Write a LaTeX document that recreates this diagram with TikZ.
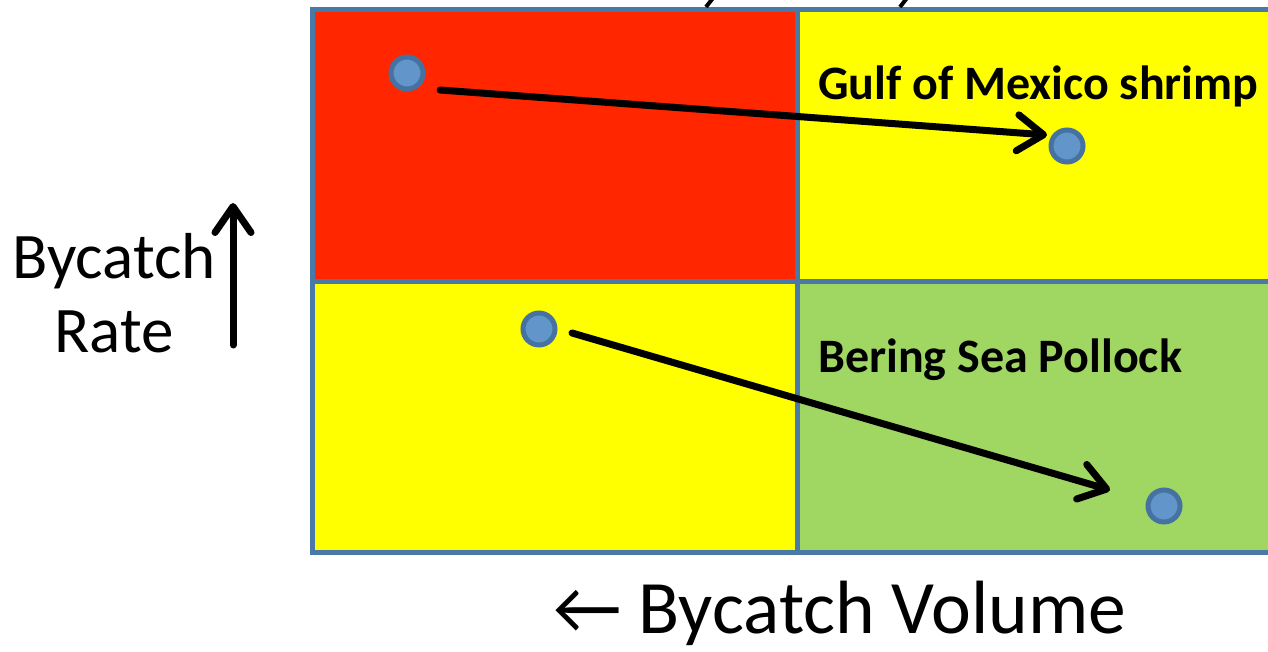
\documentclass[tikz,border=0pt]{standalone}
\usepackage{fontspec}
\setmainfont{Carlito}
\usetikzlibrary{arrows.meta}
\definecolor{gridblue}{RGB}{74,121,168}
\definecolor{cellred}{RGB}{255,38,0}
\definecolor{cellyellow}{RGB}{255,255,0}
\definecolor{cellgreen}{RGB}{160,214,98}
\definecolor{dotfill}{RGB}{98,150,203}
\definecolor{dotring}{RGB}{69,114,161}
\tikzset{
  dot/.style={circle, fill=dotfill, draw=dotring, line width=5pt, minimum size=32pt, inner sep=0pt},
  bigarrow/.style={line width=7pt, line cap=round, -{Straight Barb[length=26pt,width=36pt,round]}},
  gridline/.style={draw=gridblue, line width=5pt},
  fishlabel/.style={font=\fontsize{48}{56}\selectfont\bfseries, inner sep=0pt, anchor=base west},
  axislabel/.style={inner sep=0pt, anchor=base, font=\fontsize{65}{75}\selectfont},
}
\begin{document}
\begin{tikzpicture}[x=1pt,y=-1pt]
\useasboundingbox (0,0) rectangle (1268,652);
\clip (0,0) rectangle (1268,652);
% cells
\fill[cellred] (312,9.5) rectangle (797.5,281.5);
\fill[cellyellow] (797.5,9.5) rectangle (1290,281.5);
\fill[cellyellow] (312,281.5) rectangle (797.5,552);
\fill[cellgreen] (797.5,281.5) rectangle (1290,552);
% grid lines
\draw[gridline] (312,9.5) rectangle (1290,552);
\draw[gridline] (797.5,9.5) -- (797.5,552);
\draw[gridline] (312,281.5) -- (1290,281.5);
% cut-off title fragments
\draw[line width=4pt] (713,-2) -- (706,7);
\draw[line width=4pt] (907,-2) -- (900,7);
% labels
\node[fishlabel] (gulf) at (818,100) {Gulf of Mexico shrimp};
\node[fishlabel] (bering) at (818,372) {Bering Sea Pollock};
% dots
\node[dot] (d1) at (407,73) {};
\node[dot] (d2) at (1067,146) {};
\node[dot] (d3) at (539,329) {};
\node[dot] (d4) at (1164,506) {};
% arrows
\coordinate (a1s) at (440,90);
\coordinate (a1e) at (1047,135);
\coordinate (a2s) at (572,333);
\coordinate (a2e) at (1110,490);
\draw[bigarrow] (a1s) -- (a1e);
\draw[bigarrow] (a2s) -- (a2e);
% axis labels
\node[axislabel] (rate1) at (114,278) {Bycatch};
\node[axislabel] (rate2) at (114,352) {Rate};
\coordinate (up0) at (233,345);
\coordinate (up1) at (233,203);
\draw[bigarrow] (up0) -- (up1);
\node[inner sep=0pt, anchor=base west, font=\fontsize{75.5}{88}\selectfont] (vol) at (553,633) {← Bycatch Volume};
\end{tikzpicture}
\end{document}
